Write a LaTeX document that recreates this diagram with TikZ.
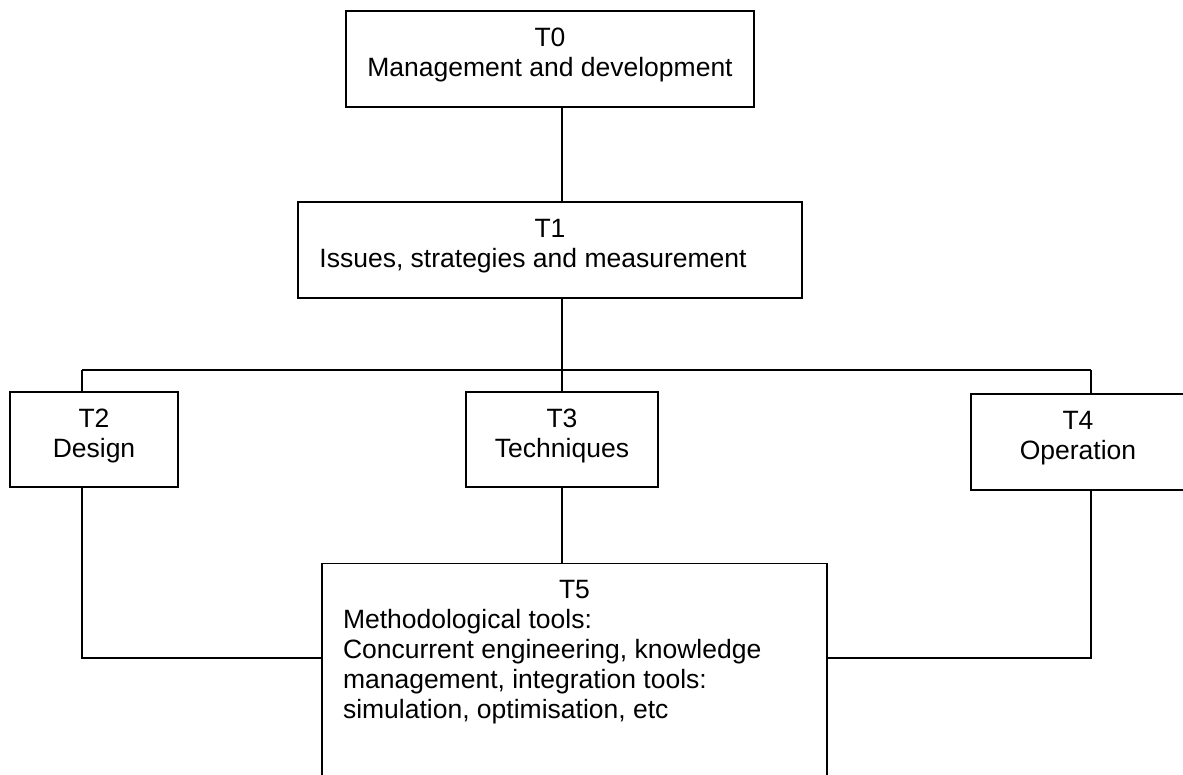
\documentclass[tikz,border=0pt]{standalone}
\usepackage{fontspec}
\setmainfont{Liberation Sans}
\usepackage{tikz}
\tikzstyle{tframe} = [draw=black, line width=1.3pt, rectangle, inner sep=0pt, font=\fontsize{26.5}{30}\selectfont]
\tikzstyle{tbox} = [tframe, align=center, text depth=12.5pt]
\tikzstyle{tline} = [line width=1.3pt]

\begin{document}
\begin{tikzpicture}[x=1pt, y=-1pt]
\clip (0,0) rectangle (1183,775);
\node [tbox, minimum width=408pt, minimum height=96pt] (t0) at (550,59) {T0\\Management and development};
\node [tbox, minimum width=504pt, minimum height=96pt] (t1) at (550,250) {T1\\Issues, strategies and measurement\hspace*{34pt}};
\node [tbox, minimum width=168pt, minimum height=95pt] (t2) at (94,439.5) {T2\\Design};
\node [tbox, minimum width=192pt, minimum height=95pt] (t3) at (562,439.5) {T3\\Techniques};
\node [tbox, minimum width=214pt, minimum height=96pt] (t4) at (1078,442) {T4\\Operation};
\node [tframe, inner xsep=21pt, anchor=north] (t5) at (574.5,563) {%
    \begin{minipage}[t][240pt][t]{463pt}
        \vspace*{17pt}
        {\centering T5\par}
        Methodological tools:\\
        Concurrent engineering, knowledge\\
        management, integration tools:\\
        simulation, optimisation, etc
    \end{minipage}
};
\coordinate (mid) at (562,0);
\coordinate (busl) at (82,370);
\coordinate (busr) at (1091,370);
\coordinate (lowl) at (82,658);
\coordinate (lowr) at (1091,658);
\draw [tline] (t0.south -| mid) -- (t1.north -| mid);
\draw [tline] (t1.south -| mid) -- (t3.north -| mid);
\draw [tline] (busl) -- (busr);
\draw [tline] (busl) -- (busl |- t2.north);
\draw [tline] (busr) -- (busr |- t4.north);
\draw [tline] (t3.south -| mid) -- (t5.north -| mid);
\draw [tline] (t2.south -| lowl) -- (lowl) -- (lowl -| t5.west);
\draw [tline] (t4.south -| lowr) -- (lowr) -- (lowr -| t5.east);
\end{tikzpicture}
\end{document}
